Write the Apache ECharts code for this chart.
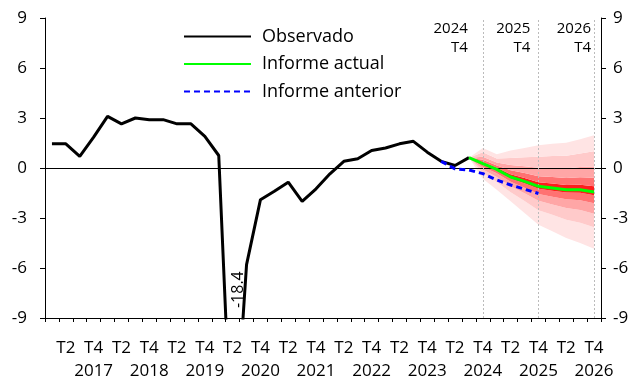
<!DOCTYPE html>
<html><head><meta charset="utf-8">
<script src="https://cdn.jsdelivr.net/npm/echarts@6/dist/echarts.min.js"></script>
<style>html,body{margin:0;padding:0;background:#fff}#c{width:640px;height:383px}</style>
</head><body><div id="c"></div>
<script>
// ---- data ----
const years = ['2017','2018','2019','2020','2021','2022','2023','2024','2025','2026'];
const quarters = ['T1','T2','T3','T4'];
const yMin = -9, yMax = 9, yStep = 3;

// Observado: 2017 T1 .. 2024 T3
const observado = [1.45, 1.45, 0.7, 1.85, 3.1, 2.65, 3.0, 2.9, 2.9, 2.65, 2.65, 1.9,
  0.75, -18.4, -5.8, -1.9, -1.4, -0.85, -2.0, -1.25, -0.35, 0.4, 0.55, 1.05,
  1.2, 1.45, 1.6, 0.95, 0.4, 0.15, 0.62];
// Informe actual: 2024 T3 .. 2026 T4
const informeActual = [0.62, 0.26, -0.08, -0.54, -0.8, -1.1, -1.2, -1.3, -1.3, -1.44];
const actualStart = '2024T3';
// Informe anterior: 2024 T1 .. 2025 T4
const informeAnterior = [0.4, -0.05, -0.12, -0.34, -0.72, -1.02, -1.27, -1.53];
const anteriorStart = '2024T1';

// Fan chart bounds: 2024 T3 .. 2026 T4 (from inner to outer)
const fanStart = '2024T3';
const fanU1 = [0.62, 0.35, 0.01, -0.38, -0.60, -0.85, -0.93, -1.02, -1.00, -1.10];
const fanU2 = [0.62, 0.50, 0.15, -0.14, -0.30, -0.49, -0.54, -0.60, -0.55, -0.59];
const fanU3 = [0.62, 0.68, 0.33, 0.18, 0.10, 0.01, 0.00, -0.03, 0.06, 0.09];
const fanU4 = [0.62, 0.94, 0.57, 0.60, 0.64, 0.67, 0.72, 0.73, 0.87, 1.00];
const fanU5 = [0.62, 1.20, 0.82, 1.05, 1.20, 1.36, 1.46, 1.52, 1.72, 1.96];
const fanL1 = [0.62, 0.21, -0.15, -0.63, -0.91, -1.24, -1.36, -1.47, -1.49, -1.64];
const fanL2 = [0.62, 0.08, -0.32, -0.83, -1.18, -1.56, -1.72, -1.88, -1.94, -2.12];
const fanL3 = [0.62, -0.09, -0.54, -1.09, -1.52, -1.97, -2.19, -2.40, -2.52, -2.74];
const fanL4 = [0.62, -0.30, -0.84, -1.45, -1.98, -2.53, -2.81, -3.10, -3.28, -3.55];
const fanL5 = [0.62, -0.65, -1.30, -2.00, -2.70, -3.40, -3.80, -4.20, -4.50, -4.85];

// Annotations
const outlierLabel = '-18.4';
const outlierCat = '2020T2';
const outlierLabelY = -7.3;
const horizonCats = ['2024T4', '2025T4', '2026T4'];
const horizonLabels = ['2024\nT4', '2025\nT4', '2026\nT4'];
const horizonOffsets = [-15, -8, -3];

// ---- build ----
const categories = [];
years.forEach(y => quarters.forEach(q => categories.push(y + q)));
const N = categories.length;
function place(arr, startCat) {
  const out = new Array(N).fill(null);
  const s = categories.indexOf(startCat);
  arr.forEach((v, i) => { out[s + i] = v; });
  return out;
}
const FONT = 'Open Sans';
const fanBounds = [fanL5, fanL4, fanL3, fanL2, fanL1, fanU1, fanU2, fanU3, fanU4, fanU5];
const fanColors = ['#ffe4e4', '#ffcaca', '#ffa6a6', '#ff7272', '#ff1c1c',
                   '#ff7272', '#ffa6a6', '#ffcaca', '#ffe4e4'];
const series = [];
series.push({
  name: 'fanbase', type: 'line', stack: 'fan', stackStrategy: 'all',
  data: place(fanL5, fanStart), symbol: 'none', silent: true, z: 1,
  lineStyle: { opacity: 0, width: 0 }
});
for (let b = 1; b < fanBounds.length; b++) {
  const diff = fanBounds[b].map((v, i) => +(v - fanBounds[b - 1][i]).toFixed(4));
  series.push({
    name: 'fan' + b, type: 'line', stack: 'fan', stackStrategy: 'all',
    data: place(diff, fanStart), symbol: 'none', silent: true, z: 1,
    lineStyle: { opacity: 0, width: 0 },
    areaStyle: { color: fanColors[b - 1], opacity: 1 }
  });
}
series.push({
  name: 'Observado', type: 'line', data: place(observado, categories[0]),
  symbol: 'none', z: 4, lineStyle: { color: '#000', width: 3 }, itemStyle: { color: '#000' },
  markLine: {
    silent: true, symbol: ['none', 'none'], label: { show: false },
    lineStyle: { color: '#000', width: 1, type: 'solid' },
    data: [{ yAxis: 0 }]
  },
  markPoint: {
    symbol: 'circle', symbolSize: 0, silent: true,
    data: [{ coord: [outlierCat, outlierLabelY], value: outlierLabel }],
    label: { show: true, position: 'inside', formatter: outlierLabel, rotate: 90,
      offset: [0, 6], color: '#000', fontFamily: FONT, fontSize: 16 }
  }
});
series.push({
  name: 'Informe actual', type: 'line', data: place(informeActual, actualStart),
  symbol: 'none', z: 5, lineStyle: { color: '#00ff00', width: 3 }, itemStyle: { color: '#00ff00' },
  markLine: {
    silent: true, symbol: ['none', 'none'], label: { show: false },
    lineStyle: { color: '#bbbbbb', width: 1, type: [2, 2] },
    data: horizonCats.map(c => ({ xAxis: c }))
  },
  markPoint: {
    symbol: 'circle', symbolSize: 0, silent: true,
    data: horizonCats.map((c, i) => ({
      coord: [c, yMax], value: horizonLabels[i],
      label: { offset: [horizonOffsets[i], 1] }
    })),
    label: { show: true, position: 'inside', formatter: p => p.value, align: 'right',
      verticalAlign: 'top', lineHeight: 19, color: '#000', fontFamily: FONT, fontSize: 15 }
  }
});
series.push({
  name: 'Informe anterior', type: 'line', data: place(informeAnterior, anteriorStart),
  symbol: 'none', z: 6, lineStyle: { color: '#0000ff', width: 3, type: [6, 4] }, itemStyle: { color: '#0000ff' }
});

const yAxisCommon = {
  type: 'value', min: yMin, max: yMax, interval: yStep,
  axisLine: { show: true, lineStyle: { color: '#000', width: 1 } },
  axisTick: { show: true, length: 5, lineStyle: { color: '#000' } },
  splitLine: { show: false },
};
const option = {
  animation: false,
  backgroundColor: '#fff',
  textStyle: { fontFamily: FONT },
  grid: { left: 45, right: 39, top: 18, bottom: 62, containLabel: false },
  legend: {
    data: ['Observado', 'Informe actual', 'Informe anterior'],
    orient: 'vertical', left: 183, top: 27, padding: 0,
    itemWidth: 67, itemHeight: 18, itemGap: 8.5,
    itemStyle: { opacity: 0 },
    textStyle: { fontFamily: FONT, fontSize: 18, color: '#000', lineHeight: 19, padding: [0, 0, 0, 6] },
    selectedMode: false
  },
  xAxis: {
    type: 'category', data: categories, boundaryGap: true,
    axisLine: { onZero: false, lineStyle: { color: '#000', width: 1 } },
    axisTick: { show: true, interval: 0, length: 4, lineStyle: { color: '#000' } },
    axisLabel: {
      interval: 0, margin: 19, color: '#000', fontFamily: FONT, fontSize: 17, lineHeight: 23,
      formatter: (v, idx) => {
        const q = idx % 4;
        if (q === 1) return 'T2';
        if (q === 3) return 'T4\n' + years[Math.floor(idx / 4)];
        return '';
      }
    }
  },
  yAxis: [
    Object.assign({}, yAxisCommon, { position: 'left',
      axisLabel: { margin: 18, color: '#000', fontFamily: FONT, fontSize: 17 } }),
    Object.assign({}, yAxisCommon, { position: 'right',
      axisLabel: { margin: 12, color: '#000', fontFamily: FONT, fontSize: 17 } })
  ],
  series
};
const chart = echarts.init(document.getElementById('c'), null, { renderer: 'canvas' });
chart.setOption(option);
</script></body></html>
